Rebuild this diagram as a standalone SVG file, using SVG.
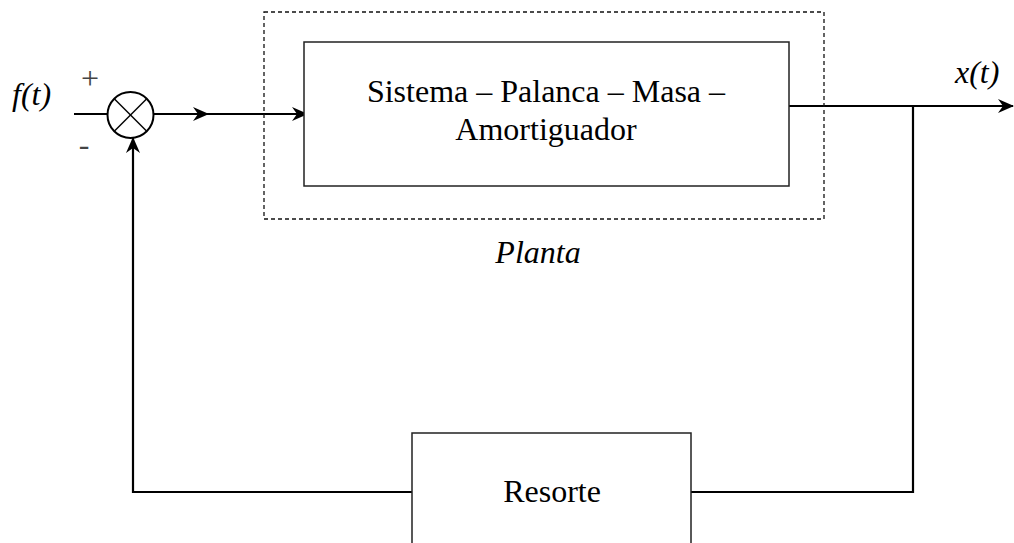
<svg xmlns="http://www.w3.org/2000/svg" width="1014" height="543" viewBox="0 0 1014 543">
  <defs>
    <marker id="arrow" viewBox="0 0 16 14" refX="15" refY="7" markerWidth="16" markerHeight="14" markerUnits="userSpaceOnUse" orient="auto">
      <path d="M0,0 L16,7 L0,14 L5,7 Z" fill="#000"/>
    </marker>
  </defs>
  <style>
    .box { fill: #fff; stroke: #222; stroke-width: 1.5; }
    .dash { fill: none; stroke: #111; stroke-width: 1.3; stroke-dasharray: 4 3; }
    .wire { fill: none; stroke: #000; stroke-width: 2.2; }
    .lbl { font-family: "Liberation Serif", "Times New Roman", serif; font-size: 32px; fill: #000; }
    .it { font-style: italic; }
    .sign { font-family: "Liberation Serif", "Times New Roman", serif; font-size: 32px; fill: #444; }
  </style>

  <rect width="1014" height="543" fill="#fff"/>

  <!-- connectors -->
  <g id="connectors">
    <line class="wire" x1="74" y1="114" x2="107" y2="114"/>
    <line class="wire" x1="153" y1="114" x2="208" y2="114" marker-end="url(#arrow)"/>
    <line class="wire" x1="205" y1="114" x2="307" y2="114" marker-end="url(#arrow)"/>
    <line class="wire" x1="789" y1="106" x2="1013" y2="106" marker-end="url(#arrow)"/>
    <polyline class="wire" points="913,106 913,492 691,492"/>
    <polyline class="wire" points="412,492 133,492 133,138" marker-end="url(#arrow)"/>
  </g>

  <!-- plant boundary -->
  <g id="planta">
    <rect class="dash" x="264" y="12" width="560" height="207"/>
    <text class="lbl it" x="538" y="263" text-anchor="middle">Planta</text>
  </g>

  <!-- plant block -->
  <g id="sistema">
    <rect class="box" x="304" y="42" width="485" height="144"/>
    <text class="lbl" x="546" y="102" text-anchor="middle">Sistema – Palanca – Masa –</text>
    <text class="lbl" x="546" y="140" text-anchor="middle">Amortiguador</text>
  </g>

  <!-- summing junction -->
  <g id="suma">
    <circle cx="130.5" cy="115" r="23" fill="#fff" stroke="#000" stroke-width="2"/>
    <line x1="114.5" y1="99" x2="146.5" y2="131" stroke="#000" stroke-width="1.5"/>
    <line x1="146.5" y1="99" x2="114.5" y2="131" stroke="#000" stroke-width="1.5"/>
    <text class="sign" x="90" y="89" text-anchor="middle">+</text>
    <text class="sign" x="84" y="155" text-anchor="middle">-</text>
  </g>

  <!-- feedback block -->
  <g id="resorte">
    <rect class="box" x="412" y="433" width="279" height="120"/>
    <text class="lbl" x="552" y="502" text-anchor="middle">Resorte</text>
  </g>

  <!-- signal labels -->
  <g id="entrada">
    <text class="lbl it" x="12" y="105">f(t)</text>
  </g>
  <g id="salida">
    <text class="lbl it" x="955" y="83">x(t)</text>
  </g>
</svg>
